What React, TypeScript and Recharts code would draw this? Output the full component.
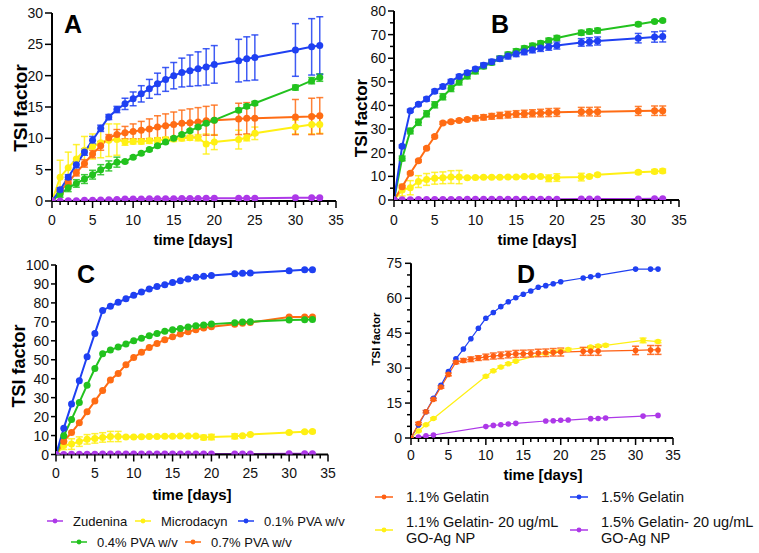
import { LineChart, Line, XAxis, YAxis, ErrorBar } from "recharts";

const FONT = "'Liberation Sans', Arial, Helvetica, sans-serif";

// sampling days
const days = [0, 1, 2, 3, 4, 5, 6, 7, 8, 9, 10, 11, 12, 13, 14, 15, 16, 17, 18, 19, 20, 23, 24, 25, 30, 32, 33];
const npDays = [0, 1, 2, 3, 10, 11, 12, 13, 14, 18, 19, 20, 21, 24, 25, 26, 31, 33];

const xTicks = [0, 1, 2, 3, 4, 5, 6, 7, 8, 9, 10, 11, 12, 13, 14, 15, 16, 17, 18, 19, 20, 21, 22, 23, 24, 25, 26, 27, 28, 29, 30, 31, 32, 33, 34, 35];
const yTicksA = [0, 5, 10, 15, 20, 25, 30];
const yTicksB = [0, 5, 10, 15, 20, 25, 30, 35, 40, 45, 50, 55, 60, 65, 70, 75, 80];
const yTicksC = [0, 10, 20, 30, 40, 50, 60, 70, 80, 90, 100];
const yTicksD = [0, 5, 10, 15, 20, 25, 30, 35, 40, 45, 50, 55, 60, 65, 70, 75];

// Panel A
const aZud = [0, 0, 0.05, 0.05, 0.1, 0.1, 0.15, 0.2, 0.25, 0.3, 0.3, 0.3, 0.35, 0.35, 0.35, 0.35, 0.4, 0.4, 0.4, 0.45, 0.45, 0.45, 0.45, 0.45, 0.5, 0.5, 0.5];
const aMic = [0, 3.8, 5.3, 6.7, 8.1, 8.7, 9.3, 9.7, 9.8, 9.4, 9.5, 9.5, 9.6, 9.7, 9.8, 9.9, 10, 10.1, 10.1, 9.1, 9.4, 9.8, 10.1, 10.8, 11.8, 12.2, 12.2];
const aMicErr = [0, 2.7, 2.5, 2.3, 2.2, 2, 2.4, 2.6, 2.5, 0.5, 0.4, 0.4, 0.4, 0.4, 0.4, 0.4, 0.4, 0.4, 0.5, 1.6, 1.2, 1.5, 0.5, 1, 1.1, 1.5, 1.4];
const aPva1 = [0, 1.8, 3.8, 5.8, 7.8, 9.7, 11.6, 13.4, 14.6, 15.5, 16.3, 17.1, 17.9, 18.7, 19.4, 20, 20.5, 20.8, 21.1, 21.4, 21.8, 22.4, 22.7, 22.9, 24.1, 24.6, 24.8];
const aPva1Err = [0, 0.3, 0.4, 0.5, 0.5, 0.6, 0.5, 0.4, 0.5, 0.9, 1.1, 1.3, 1.5, 1.7, 1.9, 2.1, 2.3, 2.5, 2.7, 2.9, 3, 3.4, 3.5, 3.6, 4.2, 4.5, 4.6];
const aPva4 = [0, 1.1, 2.1, 2.8, 3.5, 4.2, 5, 5.6, 6.2, 6.3, 7, 7.6, 8.2, 8.8, 9.4, 10, 10.6, 11.2, 11.8, 12.4, 12.9, 14.5, 15.1, 15.6, 18.1, 19.2, 19.7];
const aPva4Err = [0, 0.5, 0.6, 0.6, 0.7, 0.7, 0.8, 0.8, 0.8, 0.2, 0.2, 0.2, 0.2, 0.2, 0.2, 0.2, 0.2, 0.2, 0.2, 0.2, 0.2, 0.3, 0.3, 0.3, 0.4, 0.5, 0.6];
const aPva7 = [0, 1.5, 3, 4.5, 6, 7.5, 8.8, 10.1, 10.6, 10.9, 11.1, 11.3, 11.5, 11.8, 12, 12.2, 12.4, 12.5, 12.6, 12.8, 12.9, 13.1, 13.2, 13.2, 13.4, 13.5, 13.6];
const aPva7Err = [0, 0.3, 0.4, 0.5, 0.6, 0.6, 0.7, 0.5, 0.8, 1, 1.2, 1.4, 1.6, 1.8, 1.9, 2, 2.1, 2.2, 2.3, 2.3, 2.4, 2.5, 2.5, 2.6, 2.8, 2.9, 2.9];

// Panel B
const bZud = [0, 0.1, 0.1, 0.2, 0.2, 0.2, 0.2, 0.2, 0.2, 0.3, 0.3, 0.3, 0.3, 0.3, 0.3, 0.3, 0.3, 0.3, 0.3, 0.3, 0.3, 0.4, 0.4, 0.4, 0.4, 0.5, 0.5];
const bMic = [0, 4.2, 5.2, 7.8, 8.7, 9.2, 9.4, 9.7, 9.7, 9.4, 9.5, 9.6, 9.6, 9.6, 9.7, 9.7, 9.9, 9.9, 10, 9.2, 9.5, 9.7, 10, 10.7, 11.7, 12.1, 12.3];
const bMicErr = [0, 2.5, 3, 2.5, 2.5, 2.5, 2.5, 2.7, 2.8, 0.5, 0.4, 0.4, 0.4, 0.4, 0.4, 0.4, 0.4, 0.4, 0.4, 1.4, 1.6, 1.6, 0.6, 0.6, 0.7, 0.8, 0.8];
const bPva1 = [0, 22.7, 37.8, 40.5, 42.7, 46, 48, 50.2, 52.3, 53.9, 55.4, 57, 58.5, 59.8, 60.9, 61.9, 62.8, 63.6, 64.3, 64.9, 65.4, 66.7, 67, 67.3, 68.5, 69, 69.2];
const bPva1Err = [0, 0.6, 0.6, 0.6, 0.8, 0.8, 0.8, 0.8, 0.8, 0.8, 0.8, 1, 1, 1, 1.2, 1.2, 1.3, 1.3, 1.4, 1.5, 1.5, 1.6, 1.7, 1.7, 2, 2.2, 2.3];
const bPva4 = [0, 17.6, 29.2, 32.9, 36.5, 40.3, 43.7, 47.2, 50, 52.5, 54.6, 56.6, 58.2, 59.9, 61.6, 63, 64.2, 65.3, 66.3, 67.5, 68.6, 70.8, 71.3, 71.7, 74.4, 75.6, 76];
const bPva4Err = [0, 1, 1.2, 1.3, 1.3, 1.3, 1.3, 1.3, 1.3, 1.2, 1.2, 1, 1, 1, 1, 1, 1, 1, 1, 1, 1, 1, 1, 1, 0.8, 0.5, 0.5];
const bPva7 = [0, 5.6, 11.3, 16.6, 21.9, 26.9, 32.6, 33.1, 33.7, 34.1, 34.6, 35, 35.4, 35.8, 36.1, 36.4, 36.5, 36.7, 36.8, 37, 37.1, 37.4, 37.4, 37.4, 37.7, 37.8, 37.8];
const bPva7Err = [0, 0.5, 0.5, 0.5, 0.5, 0.5, 0.6, 0.6, 0.6, 0.6, 1, 1.1, 1.2, 1.3, 1.4, 1.4, 1.5, 1.5, 1.6, 1.7, 1.7, 1.8, 1.8, 1.9, 1.9, 2, 2];

// Panel C
const cZud = [0, 0, 0.1, 0.1, 0.1, 0.1, 0.2, 0.2, 0.2, 0.2, 0.2, 0.3, 0.3, 0.3, 0.3, 0.3, 0.3, 0.3, 0.3, 0.3, 0.3, 0.3, 0.3, 0.3, 0.4, 0.4, 0.4];
const cMic = [0, 4.8, 5.5, 6.8, 8, 8.5, 9, 9.5, 9.5, 9.3, 9.3, 9.4, 9.5, 9.5, 9.6, 9.6, 9.7, 9.7, 9.8, 9, 9.2, 9.6, 9.9, 10.6, 11.6, 12, 12.1];
const cMicErr = [0, 2.2, 2.8, 2.5, 2.5, 2.5, 2.5, 2.7, 2.7, 0.4, 0.4, 0.4, 0.4, 0.4, 0.4, 0.4, 0.4, 0.4, 0.4, 1.2, 1.4, 1.3, 0.5, 0.5, 0.5, 0.5, 0.6];
const cPva1 = [0, 13.9, 26.6, 38.9, 51.6, 63.9, 76, 78.2, 80.3, 82.2, 84, 85.7, 87.3, 88.6, 89.6, 90.7, 91.7, 92.6, 93.5, 94, 94.5, 95.4, 95.6, 95.8, 97, 97.5, 97.5];
const cPva4 = [0, 9.9, 18.5, 27.5, 36.6, 45.4, 53.2, 55.1, 56.7, 58.3, 60, 61.4, 62.7, 63.9, 65, 65.8, 66.5, 67.3, 68, 68.3, 68.8, 69.5, 69.9, 70.1, 71, 71.1, 71.2];
const cPva7 = [0, 6.9, 11.6, 16.7, 22.5, 28.2, 33.8, 39.3, 42.8, 47.4, 51.2, 53.9, 56.5, 58.6, 60.6, 62.1, 63.6, 64.8, 65.8, 66.7, 67.4, 68.7, 69.2, 69.7, 72.5, 72.5, 72.5];

// Panel D
const dGel11 = [0, 6.2, 11.3, 16.6, 21.9, 27.3, 32.5, 33.3, 33.8, 34.3, 34.8, 35.2, 35.5, 35.8, 36.1, 36.2, 36.3, 36.5, 36.6, 36.8, 36.9, 37.2, 37.3, 37.3, 37.6, 37.8, 37.8];
const dGel11Err = [0, 0.5, 0.5, 0.5, 0.5, 0.6, 0.6, 0.8, 1, 1, 1.2, 1.3, 1.4, 1.4, 1.5, 1.5, 1.5, 1.6, 1.6, 1.6, 1.7, 1.7, 1.8, 1.8, 1.8, 1.9, 1.9];
const dGel15 = [0, 5.6, 11.3, 17, 22.6, 28.5, 34, 38.2, 42.6, 47.1, 51.4, 53.9, 56.4, 58.5, 60.2, 61.7, 63.1, 64.7, 65.4, 66.2, 67.1, 68.7, 69.2, 69.8, 72.5, 72.5, 72.5];
const dNp11 = [0, 3, 5.7, 8.4, 26.5, 28.9, 30.5, 31.9, 33, 36.4, 36.9, 37.3, 38, 39, 39.5, 39.8, 41.9, 41.4];
const dNp11Err = [0, 0.3, 0.3, 0.3, 0.4, 0.4, 0.4, 0.4, 0.4, 0.5, 0.5, 0.5, 0.5, 0.5, 0.5, 0.5, 1, 0.5];
const dNp15 = [0, 0.4, 0.9, 1.3, 4.9, 5.4, 5.7, 6, 6.3, 7.3, 7.4, 7.6, 7.7, 8.3, 8.4, 8.6, 9.4, 9.7];

const PURPLE = "#ad38e8";
const YELLOW = "#fff014";
const BLUE = "#1f40f2";
const GREEN = "#22c21e";
const ORANGE = "#ff6c14";
const ORANGE_D = "#ff5f12";

type Pt = { t: number; v: number; e: number };
type Series = { name: string; color: string; data: Pt[]; err: boolean };

const pts = (xs: number[], ys: number[], es?: number[]): Pt[] =>
  xs.map((t, i) => ({ t, v: ys[i], e: es ? es[i] : 0 }));

const seriesA: Series[] = [
  { name: "Microdacyn", color: YELLOW, data: pts(days, aMic, aMicErr), err: true },
  { name: "0.7% PVA w/v", color: ORANGE, data: pts(days, aPva7, aPva7Err), err: true },
  { name: "0.4% PVA w/v", color: GREEN, data: pts(days, aPva4, aPva4Err), err: true },
  { name: "0.1% PVA w/v", color: BLUE, data: pts(days, aPva1, aPva1Err), err: true },
  { name: "Zudenina", color: PURPLE, data: pts(days, aZud), err: false },
];
const seriesB: Series[] = [
  { name: "Microdacyn", color: YELLOW, data: pts(days, bMic, bMicErr), err: true },
  { name: "0.7% PVA w/v", color: ORANGE, data: pts(days, bPva7, bPva7Err), err: true },
  { name: "0.4% PVA w/v", color: GREEN, data: pts(days, bPva4, bPva4Err), err: true },
  { name: "0.1% PVA w/v", color: BLUE, data: pts(days, bPva1, bPva1Err), err: true },
  { name: "Zudenina", color: PURPLE, data: pts(days, bZud), err: false },
];
const seriesC: Series[] = [
  { name: "Microdacyn", color: YELLOW, data: pts(days, cMic, cMicErr), err: true },
  { name: "0.7% PVA w/v", color: ORANGE, data: pts(days, cPva7), err: false },
  { name: "0.4% PVA w/v", color: GREEN, data: pts(days, cPva4), err: false },
  { name: "0.1% PVA w/v", color: BLUE, data: pts(days, cPva1), err: false },
  { name: "Zudenina", color: PURPLE, data: pts(days, cZud), err: false },
];
const seriesD: Series[] = [
  { name: "1.5% Gelatin- 20 ug/mL GO-Ag NP", color: PURPLE, data: pts(npDays, dNp15), err: false },
  { name: "1.1% Gelatin- 20 ug/mL GO-Ag NP", color: YELLOW, data: pts(npDays, dNp11, dNp11Err), err: true },
  { name: "1.5% Gelatin", color: BLUE, data: pts(days, dGel15), err: false },
  { name: "1.1% Gelatin", color: ORANGE_D, data: pts(days, dGel11, dGel11Err), err: true },
];

type TickCfg = { major: number; minor: number; gap: number };

function XTick(props: any) {
  const { x, y, payload, cfg } = props;
  const major = payload.value % 5 === 0;
  return (
    <g>
      <line x1={x} x2={x} y1={y} y2={y + (major ? cfg.major : cfg.minor)} stroke="#000" strokeWidth={1.5} />
      {major && (
        <text x={x} y={y + cfg.gap} textAnchor="middle" fontSize={14} fontFamily={FONT} fill="#111">
          {payload.value}
        </text>
      )}
    </g>
  );
}

function YTick(props: any) {
  const { x, y, payload, cfg, step } = props;
  const major = payload.value % step === 0;
  return (
    <g>
      <line x1={x} x2={x - (major ? cfg.major : cfg.minor)} y1={y} y2={y} stroke="#000" strokeWidth={1.5} />
      {major && (
        <text x={x - cfg.gap} y={y + 5} textAnchor="end" fontSize={14} fontFamily={FONT} fill="#111">
          {payload.value}
        </text>
      )}
    </g>
  );
}

type PanelProps = {
  left: number;
  top: number;
  width: number;
  height: number;
  margin: { top: number; right: number; bottom: number; left: number };
  yMax: number;
  yTicks: number[];
  yStep: number;
  series: Series[];
  lw: number;
  r: number;
  xt: TickCfg;
  yt: TickCfg;
};

function Panel(p: PanelProps) {
  return (
    <div style={{ position: "absolute", left: p.left, top: p.top, width: p.width, height: p.height }}>
      <LineChart width={p.width} height={p.height} margin={p.margin}>
        <XAxis
          type="number"
          dataKey="t"
          domain={[0, 35]}
          ticks={xTicks}
          interval={0}
          allowDataOverflow
          height={25}
          axisLine={{ stroke: "#000", strokeWidth: 2 }}
          tickLine={false}
          tickSize={0}
          tickMargin={0}
          tick={(t: any) => <XTick {...t} cfg={p.xt} />}
        />
        <YAxis
          type="number"
          domain={[0, p.yMax]}
          ticks={p.yTicks}
          interval={0}
          allowDataOverflow
          width={40}
          axisLine={{ stroke: "#000", strokeWidth: 2 }}
          tickLine={false}
          tickSize={0}
          tickMargin={0}
          tick={(t: any) => <YTick {...t} cfg={p.yt} step={p.yStep} />}
        />
        {p.series.map((s) => (
          <Line
            key={s.name}
            data={s.data}
            dataKey="v"
            name={s.name}
            stroke={s.color}
            strokeWidth={p.lw}
            dot={{ r: p.r, fill: s.color, stroke: s.color, strokeWidth: 0 }}
            activeDot={false}
            isAnimationActive={false}
          >
            {s.err && (
              <ErrorBar dataKey="e" width={3.5} strokeWidth={1.5} stroke={s.color} strokeOpacity={0.85} direction="y" />
            )}
          </Line>
        ))}
      </LineChart>
    </div>
  );
}

const legendLeft = [
  { name: "Zudenina", color: PURPLE, x: 47, y: 521 },
  { name: "Microdacyn", color: YELLOW, x: 135, y: 521 },
  { name: "0.1% PVA w/v", color: BLUE, x: 238, y: 521 },
  { name: "0.4% PVA w/v", color: GREEN, x: 71, y: 542 },
  { name: "0.7% PVA w/v", color: ORANGE, x: 185, y: 542 },
];
const legendRight = [
  { lines: ["1.1% Gelatin"], color: ORANGE_D, x: 375, y: 497 },
  { lines: ["1.5% Gelatin"], color: BLUE, x: 570, y: 497 },
  { lines: ["1.1% Gelatin- 20 ug/mL", "GO-Ag NP"], color: YELLOW, x: 375, y: 530 },
  { lines: ["1.5% Gelatin- 20 ug/mL", "GO-Ag NP"], color: PURPLE, x: 570, y: 530 },
];

function Marker({ x, y, color, len }: { x: number; y: number; color: string; len: number }) {
  return (
    <g>
      <line x1={x} x2={x + len} y1={y} y2={y} stroke={color} strokeWidth={1.5} />
      <circle cx={x + len / 2} cy={y} r={2.4} fill={color} />
    </g>
  );
}

export default function App() {
  return (
    <div style={{ position: "absolute", left: 0, top: 0, width: 759, height: 553, background: "#fff", fontFamily: FONT }}>
      <Panel
        left={0} top={0} width={350} height={230}
        margin={{ top: 13, right: 14, bottom: 4, left: 12 }}
        yMax={30} yTicks={yTicksA} yStep={5} series={seriesA} lw={2} r={3.5}
        xt={{ major: 7, minor: 4, gap: 24 }} yt={{ major: 7, minor: 4, gap: 9 }}
      />
      <Panel
        left={340} top={0} width={419} height={230}
        margin={{ top: 11, right: 80, bottom: 5, left: 14 }}
        yMax={80} yTicks={yTicksB} yStep={10} series={seriesB} lw={2} r={3.5}
        xt={{ major: 7, minor: 4, gap: 25 }} yt={{ major: 6, minor: 4, gap: 8 }}
      />
      <Panel
        left={0} top={250} width={350} height={240}
        margin={{ top: 15, right: 22, bottom: 10.5, left: 16 }}
        yMax={100} yTicks={yTicksC} yStep={10} series={seriesC} lw={2} r={3.5}
        xt={{ major: 7, minor: 4, gap: 23.5 }} yt={{ major: 5, minor: 3, gap: 7 }}
      />
      <Panel
        left={360} top={250} width={399} height={220}
        margin={{ top: 13.3, right: 86, bottom: 7, left: 11 }}
        yMax={75} yTicks={yTicksD} yStep={15} series={seriesD} lw={1.2} r={2.8}
        xt={{ major: 7, minor: 4, gap: 22 }} yt={{ major: 6, minor: 4, gap: 9 }}
      />
      <svg width={759} height={553} style={{ position: "absolute", left: 0, top: 0, pointerEvents: "none" }}>
        <g fontFamily={FONT} fontWeight="bold" fill="#000">
          <text x={64} y={33} fontSize={25}>A</text>
          <text x={491} y={33} fontSize={25}>B</text>
          <text x={77} y={283} fontSize={25}>C</text>
          <text x={517} y={283} fontSize={25}>D</text>

          <text transform="translate(27,108) rotate(-90)" textAnchor="middle" fontSize={19}>TSI factor</text>
          <text transform="translate(367,118) rotate(-90)" textAnchor="middle" fontSize={17}>TSI factor</text>
          <text transform="translate(25,366) rotate(-90)" textAnchor="middle" fontSize={18}>TSI factor</text>
          <text transform="translate(380,339) rotate(-90)" textAnchor="middle" fontSize={11.5}>TSI factor</text>

          <text x={193} y={245} textAnchor="middle" fontSize={15}>time [days]</text>
          <text x={537} y={245} textAnchor="middle" fontSize={15}>time [days]</text>
          <text x={192} y={500} textAnchor="middle" fontSize={15}>time [days]</text>
          <text x={543} y={480} textAnchor="middle" fontSize={15}>time [days]</text>
        </g>
        <g fontFamily={FONT} fill="#111">
          {legendLeft.map((l) => (
            <g key={l.name}>
              <Marker x={l.x} y={l.y} color={l.color} len={16} />
              <text x={l.x + 26} y={l.y + 4.6} fontSize={13}>{l.name}</text>
            </g>
          ))}
          {legendRight.map((l) => (
            <g key={l.lines[0] + l.x}>
              <Marker x={l.x} y={l.y} color={l.color} len={18} />
              {l.lines.map((s, i) => (
                <text key={s} x={l.x + 31} y={l.y + 5 + (l.lines.length > 1 ? (i - 0.5) * 16 : 0)} fontSize={14.5}>
                  {s}
                </text>
              ))}
            </g>
          ))}
        </g>
      </svg>
    </div>
  );
}
